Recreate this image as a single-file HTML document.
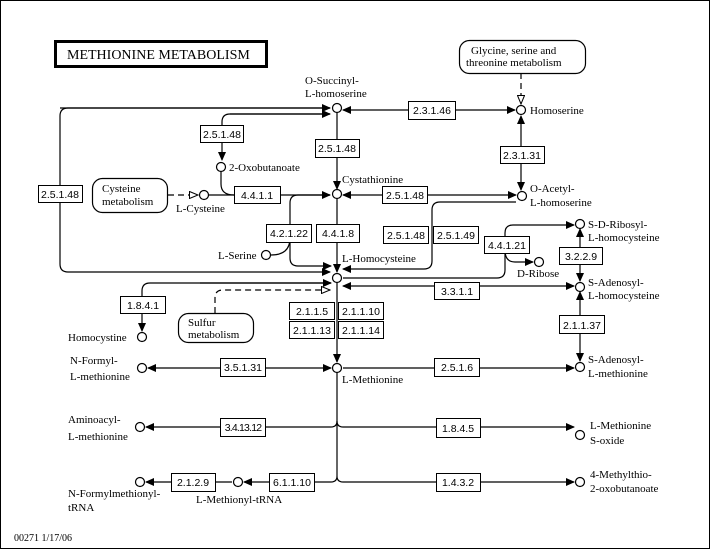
<!DOCTYPE html>
<html><head><meta charset="utf-8"><style>
html,body{margin:0;padding:0;background:#fff;}
svg{display:block;}
text{font-family:"Liberation Serif",serif;font-size:11px;fill:#000;}
.e{font-family:"Liberation Sans",sans-serif;font-size:10.5px;text-anchor:middle;}
</style></head><body>
<svg width="710" height="549" viewBox="0 0 710 549" xmlns="http://www.w3.org/2000/svg">
<defs>
<marker id="a" markerWidth="9" markerHeight="8" refX="8" refY="4" orient="auto" markerUnits="userSpaceOnUse"><path d="M0,0 L9,4 L0,8 z" fill="#000"/></marker>
<marker id="o" markerWidth="10" markerHeight="8" refX="9" refY="4" orient="auto" markerUnits="userSpaceOnUse"><path d="M0.5,0.5 L9,4 L0.5,7.5 z" fill="#fff" stroke="#000"/></marker>
</defs>
<rect x="0.5" y="0.5" width="709" height="548" fill="#fff" stroke="#000"/>
<rect x="55.5" y="41.5" width="211" height="25" fill="#fff" stroke="#000" stroke-width="3"/>
<text x="67" y="59" style="font-size:14px">METHIONINE  METABOLISM</text>
<g fill="none" stroke="#000" stroke-width="1.2">
<path d="M330,108 H68 Q60,108 60,116 V264 Q60,272 68,272 H330" marker-end="url(#a)"/>
<path d="M60,108 H330" marker-end="url(#a)"/>
<path d="M330,114 H230 Q222,114 222,122 V160" marker-end="url(#a)"/>
<path d="M230,114 H330" marker-end="url(#a)"/>
<path d="M221,172 V184 Q221,195 234,195"/>
<path d="M209,195 H330" marker-end="url(#a)"/>
<path d="M168,195 H198" stroke-dasharray="6,4" marker-end="url(#o)"/>
<path d="M337,113 V189" marker-end="url(#a)"/>
<path d="M337,199 V272" marker-end="url(#a)"/>
<path d="M337,283 V362" marker-end="url(#a)"/>
<path d="M337,373 V476"/>
<path d="M331,427 Q337,427 337,421 M343,427 Q337,427 337,421"/>
<path d="M331,482 Q337,482 337,476 M343,482 Q337,482 337,476"/>
<path d="M400,110 H343" marker-end="url(#a)"/>
<path d="M400,110 H515" marker-end="url(#a)"/>
<path d="M521,73 V104" stroke-dasharray="6,4" marker-end="url(#o)"/>
<path d="M521,150 V116" marker-end="url(#a)"/>
<path d="M521,150 V190" marker-end="url(#a)"/>
<path d="M400,195 H343" marker-end="url(#a)"/>
<path d="M400,195 H516" marker-end="url(#a)"/>
<path d="M516,202 H440 Q432,202 432,210 V261 Q432,269 424,269 H343" marker-end="url(#a)"/>
<path d="M330,195 H298 Q290,195 290,203 V258 Q290,266 298,266 H331" marker-end="url(#a)"/>
<path d="M271,255 Q290,255 290,238"/>
<path d="M343,278 H497 Q505,278 505,270 V233 Q505,225 513,225 H574" marker-end="url(#a)"/>
<path d="M505,250 Q505,262 515,262 H533" marker-end="url(#a)"/>
<path d="M420,286 H343" marker-end="url(#a)"/>
<path d="M420,286 H574" marker-end="url(#a)"/>
<path d="M580,255 V229" marker-end="url(#a)"/>
<path d="M580,255 V281" marker-end="url(#a)"/>
<path d="M580,320 V292" marker-end="url(#a)"/>
<path d="M580,320 V361" marker-end="url(#a)"/>
<path d="M331,283 H150 Q142,283 142,291 V331" marker-end="url(#a)"/>
<path d="M200,283 H331" marker-end="url(#a)"/>
<path d="M215,313 V298 Q215,290 223,290 H330" stroke-dasharray="6,4" marker-end="url(#o)"/>
<path d="M240,368 H148" marker-end="url(#a)"/>
<path d="M240,368 H331" marker-end="url(#a)"/>
<path d="M343,368 H574" marker-end="url(#a)"/>
<path d="M331,427 H146" marker-end="url(#a)"/>
<path d="M343,427 H574" marker-end="url(#a)"/>
<path d="M331,482 H244" marker-end="url(#a)"/>
<path d="M232,482 H146" marker-end="url(#a)"/>
<path d="M343,482 H574" marker-end="url(#a)"/>
</g>
<g fill="#fff" stroke="#000" stroke-width="1.2">
<rect x="459.5" y="40.5" width="126" height="33" rx="10"/>
<rect x="92.5" y="178.5" width="75" height="34" rx="10"/>
<rect x="178.5" y="313.5" width="75" height="29" rx="10"/>
</g>
<text x="471" y="54">Glycine, serine and</text><text x="466" y="66">threonine metabolism</text>
<text x="102" y="192">Cysteine</text><text x="102" y="205">metabolism</text>
<text x="188" y="326">Sulfur</text><text x="188" y="338">metabolism</text>
<g fill="#fff" stroke="#000" stroke-width="1.2">
<circle cx="337" cy="108" r="4.5"/><circle cx="521" cy="110" r="4.5"/>
<circle cx="337" cy="194" r="4.5"/><circle cx="221" cy="167" r="4.5"/>
<circle cx="204" cy="195" r="4.5"/><circle cx="522" cy="196" r="4.5"/>
<circle cx="266" cy="255" r="4.5"/><circle cx="337" cy="278" r="4.5"/>
<circle cx="580" cy="224" r="4.5"/><circle cx="539" cy="262" r="4.5"/>
<circle cx="580" cy="287" r="4.5"/><circle cx="142" cy="337" r="4.5"/>
<circle cx="337" cy="368" r="4.5"/><circle cx="580" cy="367" r="4.5"/>
<circle cx="142" cy="368" r="4.5"/><circle cx="140" cy="427" r="4.5"/>
<circle cx="580" cy="435" r="4.5"/><circle cx="140" cy="482" r="4.5"/>
<circle cx="238" cy="482" r="4.5"/><circle cx="580" cy="482" r="4.5"/>
</g>
<text x="305" y="84">O-Succinyl-</text><text x="305" y="97">L-homoserine</text>
<text x="530" y="114">Homoserine</text>
<text x="342" y="183">Cystathionine</text>
<text x="229" y="171">2-Oxobutanoate</text>
<text x="176" y="212">L-Cysteine</text>
<text x="530" y="192">O-Acetyl-</text><text x="530" y="206">L-homoserine</text>
<text x="218" y="259">L-Serine</text>
<text x="342" y="262">L-Homocysteine</text>
<text x="588" y="228">S-D-Ribosyl-</text><text x="588" y="241">L-homocysteine</text>
<text x="517" y="277">D-Ribose</text>
<text x="588" y="286">S-Adenosyl-</text><text x="588" y="299">L-homocysteine</text>
<text x="68" y="341">Homocystine</text>
<text x="70" y="364">N-Formyl-</text><text x="70" y="380">L-methionine</text>
<text x="342" y="383">L-Methionine</text>
<text x="588" y="363">S-Adenosyl-</text><text x="588" y="377">L-methionine</text>
<text x="68" y="423">Aminoacyl-</text><text x="68" y="440">L-methionine</text>
<text x="590" y="429">L-Methionine</text><text x="590" y="444">S-oxide</text>
<text x="68" y="497">N-Formylmethionyl-</text><text x="68" y="511">tRNA</text>
<text x="196" y="503">L-Methionyl-tRNA</text>
<text x="590" y="478">4-Methylthio-</text><text x="590" y="492">2-oxobutanoate</text>
<text x="14" y="541" style="font-size:10px">00271   1/17/06</text>
<g fill="#fff" stroke="#000" stroke-width="1">
<rect x="408.5" y="101.5" width="47" height="18"/>
<rect x="200.5" y="125.5" width="43" height="17"/>
<rect x="315.5" y="139.5" width="44" height="18"/>
<rect x="500.5" y="146.5" width="44" height="17"/>
<rect x="38.5" y="185.5" width="44" height="17"/>
<rect x="234.5" y="186.5" width="46" height="17"/>
<rect x="382.5" y="186.5" width="45" height="17"/>
<rect x="266.5" y="224.5" width="45" height="18"/>
<rect x="316.5" y="224.5" width="43" height="18"/>
<rect x="383.5" y="226.5" width="45" height="17"/>
<rect x="433.5" y="226.5" width="45" height="17"/>
<rect x="484.5" y="236.5" width="45" height="17"/>
<rect x="559.5" y="247.5" width="43" height="17"/>
<rect x="434.5" y="282.5" width="45" height="17"/>
<rect x="120.5" y="296.5" width="45" height="17"/>
<rect x="289.5" y="302.5" width="45" height="17"/>
<rect x="338.5" y="302.5" width="45" height="17"/>
<rect x="289.5" y="321.5" width="45" height="17"/>
<rect x="338.5" y="321.5" width="45" height="17"/>
<rect x="559.5" y="315.5" width="45" height="18"/>
<rect x="220.5" y="358.5" width="45" height="18"/>
<rect x="434.5" y="358.5" width="45" height="18"/>
<rect x="220.5" y="418.5" width="45" height="18"/>
<rect x="436.5" y="418.5" width="44" height="19"/>
<rect x="171.5" y="473.5" width="44" height="18"/>
<rect x="269.5" y="473.5" width="45" height="18"/>
<rect x="436.5" y="473.5" width="44" height="18"/>
</g>
<text class="e" x="432" y="114">2.3.1.46</text>
<text class="e" x="222" y="138">2.5.1.48</text>
<text class="e" x="337" y="152">2.5.1.48</text>
<text class="e" x="522" y="159">2.3.1.31</text>
<text class="e" x="60" y="198">2.5.1.48</text>
<text class="e" x="257" y="199">4.4.1.1</text>
<text class="e" x="405" y="199">2.5.1.48</text>
<text class="e" x="289" y="237">4.2.1.22</text>
<text class="e" x="338" y="237">4.4.1.8</text>
<text class="e" x="406" y="239">2.5.1.48</text>
<text class="e" x="456" y="239">2.5.1.49</text>
<text class="e" x="507" y="249">4.4.1.21</text>
<text class="e" x="581" y="260">3.2.2.9</text>
<text class="e" x="457" y="295">3.3.1.1</text>
<text class="e" x="143" y="309">1.8.4.1</text>
<text class="e" x="312" y="315">2.1.1.5</text>
<text class="e" x="361" y="315">2.1.1.10</text>
<text class="e" x="312" y="334">2.1.1.13</text>
<text class="e" x="361" y="334">2.1.1.14</text>
<text class="e" x="582" y="329">2.1.1.37</text>
<text class="e" x="243" y="371">3.5.1.31</text>
<text class="e" x="457" y="371">2.5.1.6</text>
<text class="e" x="243" y="431" style="letter-spacing:-0.8px">3.4.13.12</text>
<text class="e" x="458" y="432">1.8.4.5</text>
<text class="e" x="193" y="486">2.1.2.9</text>
<text class="e" x="292" y="486">6.1.1.10</text>
<text class="e" x="458" y="486">1.4.3.2</text>
</svg>
</body></html>
